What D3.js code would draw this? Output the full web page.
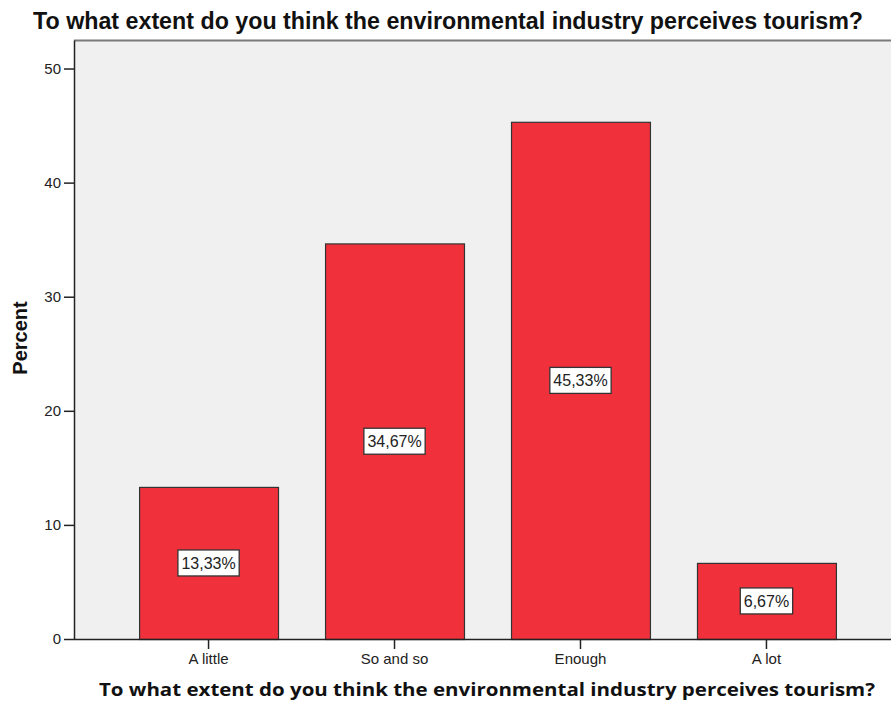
<!DOCTYPE html>
<html>
<head>
<meta charset="utf-8">
<script src="https://cdn.jsdelivr.net/npm/d3@7"></script>
<style>
  html, body { margin: 0; padding: 0; background: #fff; }
  svg { display: block; }
</style>
</head>
<body>
<svg id="chart" width="891" height="709"></svg>
<script>
const categories = ["A little", "So and so", "Enough", "A lot"];
const percentValues = [13.33, 34.67, 45.33, 6.67];
const barLabels = ["13,33%", "34,67%", "45,33%", "6,67%"];
const yTickValues = [0, 10, 20, 30, 40, 50];
const chartTitle = "To what extent do you think the environmental industry perceives tourism?";
const xAxisTitle = "To what extent do you think the environmental industry perceives tourism?";
const yAxisTitle = "Percent";

const svg = d3.select("#chart");
const plot = { left: 74, top: 40, right: 891, bottom: 639 };

const y = d3.scaleLinear().domain([0, 52.5]).range([plot.bottom, plot.top]);
const x = d3.scaleBand().domain(categories).range([plot.left, 901])
  .paddingInner(0.253).paddingOuter(0.35);

// plot background
svg.append("rect")
  .attr("x", plot.left).attr("y", plot.top)
  .attr("width", plot.right - plot.left).attr("height", plot.bottom - plot.top)
  .attr("fill", "#f0f0f0");
// top border
svg.append("line")
  .attr("x1", plot.left).attr("x2", plot.right)
  .attr("y1", plot.top + 0.5).attr("y2", plot.top + 0.5)
  .attr("stroke", "#7a7a7a").attr("stroke-width", 2);

// bars
svg.append("g").selectAll("rect")
  .data(categories)
  .join("rect")
  .attr("x", d => x(d) + 0.5)
  .attr("y", (d, i) => y(percentValues[i]) + 0.5)
  .attr("width", x.bandwidth())
  .attr("height", (d, i) => y(0) - y(percentValues[i]))
  .attr("fill", "#f0313b")
  .attr("stroke", "#333")
  .attr("stroke-width", 1.2);

// y axis
const yAxis = d3.axisLeft(y).tickValues(yTickValues).tickSize(10).tickSizeOuter(0).tickPadding(3)
  .tickFormat(d3.format("d"));
const gy = svg.append("g").attr("transform", `translate(${plot.left},0)`).call(yAxis);
gy.select(".domain").attr("stroke", "#222").attr("stroke-width", 1.5);
gy.selectAll(".tick line").attr("stroke", "#222").attr("stroke-width", 1.5);
gy.selectAll(".tick text").attr("font-family", "Liberation Sans, Arial, sans-serif")
  .attr("font-size", 15).attr("fill", "#222");

// x axis
const xAxis = d3.axisBottom(x).tickSize(10).tickPadding(4).tickSizeOuter(0);
const gx = svg.append("g").attr("transform", `translate(0,${plot.bottom})`).call(xAxis);
gx.select(".domain").attr("stroke", "#222").attr("stroke-width", 1.5)
  .attr("d", `M${plot.left},0.5H${plot.right}`);
gx.selectAll(".tick line").attr("stroke", "#222").attr("stroke-width", 1.5);
gx.selectAll(".tick text").attr("font-family", "Liberation Sans, Arial, sans-serif")
  .attr("font-size", 15).attr("fill", "#222");

// bar labels in boxes
const lbl = svg.append("g").selectAll("g")
  .data(categories)
  .join("g")
  .attr("transform", (d, i) => `translate(${x(d) + x.bandwidth() / 2},${y(percentValues[i] / 2)})`);
lbl.append("text")
  .attr("text-anchor", "middle")
  .attr("dy", "0.36em")
  .attr("font-family", "Liberation Sans, Arial, sans-serif")
  .attr("font-size", 16)
  .attr("fill", "#222")
  .text((d, i) => barLabels[i]);
lbl.each(function () {
  const g = d3.select(this);
  const bb = g.select("text").node().getBBox();
  g.insert("rect", "text")
    .attr("x", bb.x - 3.5).attr("y", -13)
    .attr("width", bb.width + 7).attr("height", 26)
    .attr("fill", "#fff").attr("stroke", "#333").attr("stroke-width", 1.3);
});

// titles
svg.append("text")
  .attr("x", 33).attr("y", 29)
  .attr("font-family", "Liberation Sans, Arial, sans-serif")
  .attr("font-weight", "bold").attr("font-size", 23)
  .attr("fill", "#111")
  .attr("textLength", 830).attr("lengthAdjust", "spacingAndGlyphs")
  .text(chartTitle);

svg.append("text")
  .attr("x", 99).attr("y", 696)
  .attr("font-family", "Open Sans, DejaVu Sans, sans-serif")
  .attr("font-weight", "bold").attr("font-size", 17)
  .attr("fill", "#111")
  .attr("textLength", 776).attr("lengthAdjust", "spacingAndGlyphs")
  .text(xAxisTitle);

svg.append("text")
  .attr("transform", "translate(27,338) rotate(-90)")
  .attr("text-anchor", "middle")
  .attr("font-family", "Liberation Sans, Arial, sans-serif")
  .attr("font-weight", "bold").attr("font-size", 20)
  .attr("fill", "#111")
  .text(yAxisTitle);
</script>
</body>
</html>
